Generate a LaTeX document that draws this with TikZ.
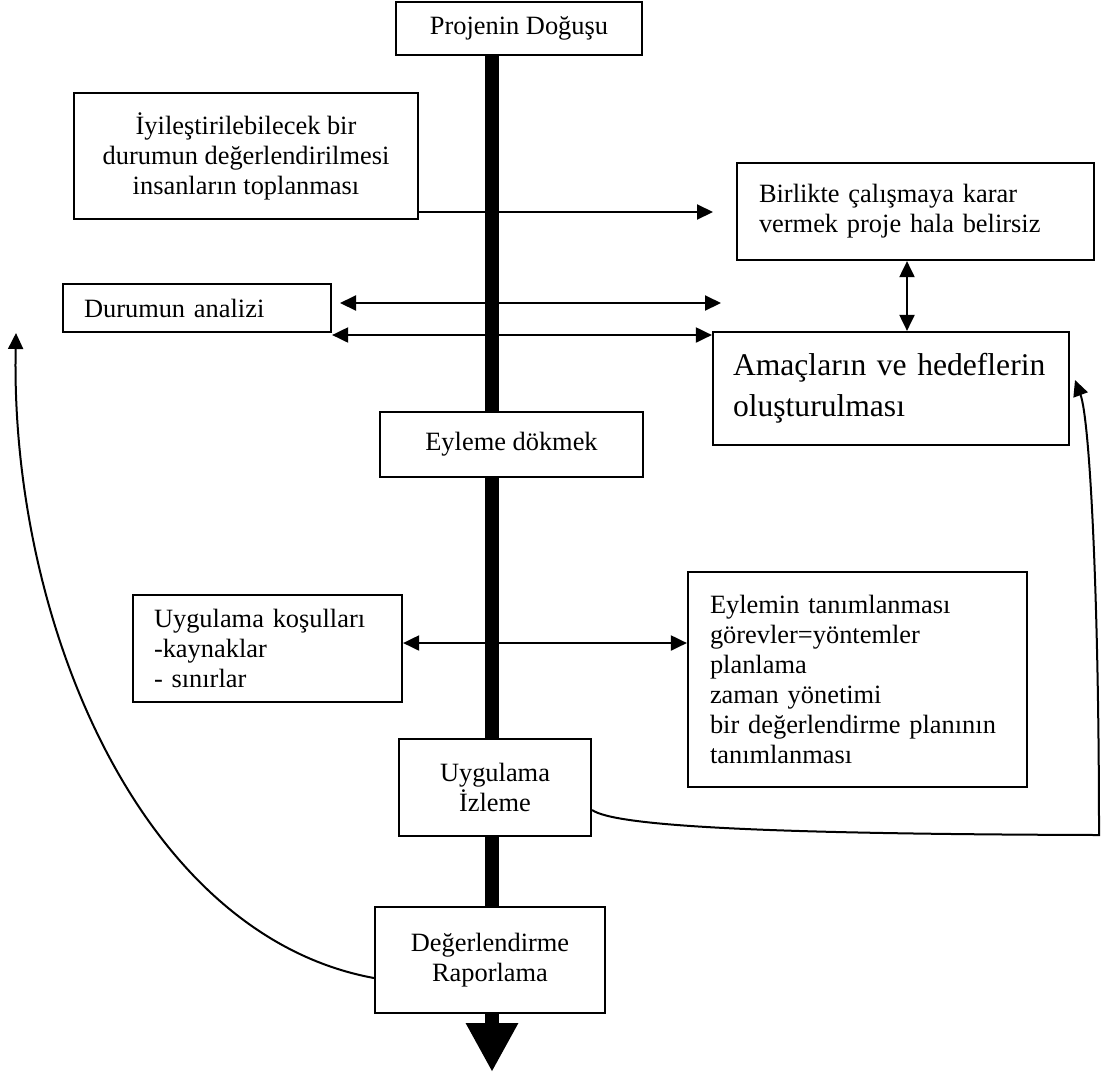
\documentclass[tikz,border=0pt]{standalone}
\usepackage{fontspec}
\setmainfont{Liberation Serif}
\usetikzlibrary{arrows.meta,backgrounds}
\begin{document}
\begin{tikzpicture}[x=0.5pt,y=-0.5pt,
  box/.style={draw, line width=1.1pt, fill=white, inner sep=0pt, font=\fontsize{13.2}{15}\selectfont},
  lbox/.style={box, align=left},
  cbox/.style={box, align=center},
  tipshape/.style={-{Triangle[length=8pt,width=7.5pt]}},
  arr/.style={line width=1pt, tipshape},
  darr/.style={line width=1pt, {Triangle[length=8pt,width=7.5pt]}-{Triangle[length=8pt,width=7.5pt]}},
  mainbar/.style={line width=7pt, -{Triangle[length=24.5pt,width=24.5pt]}}
]
\useasboundingbox (0,0) rectangle (1101,1077);

% boxes
\node[cbox, minimum width=123pt, minimum height=26.5pt] (proj) at (519,28.5) {Projenin Doğuşu};
\node[cbox, minimum width=172pt, minimum height=63pt] (iyi) at (246,156) {İyileştirilebilecek bir\\durumun değerlendirilmesi\\insanların toplanması};
\node[lbox, text width=156.5pt, inner xsep=11pt, minimum height=48.5pt] (bir) at (915.5,211.5) {\mbox{Birlikte çalışmaya karar}\\\mbox{vermek proje hala belirsiz}};
\node[lbox, text width=113pt, inner xsep=10.5pt, minimum height=24pt] (durum) at (197,308) {Durumun analizi};
\node[lbox, text width=158pt, inner xsep=10pt, minimum height=56.5pt, font=\fontsize{15.8}{20.5}\selectfont] (amac) at (891,388.5) {\mbox{Amaçların ve hedeflerin}\\oluşturulması};
\node[cbox, minimum width=131.5pt, minimum height=32.5pt] (eylemek) at (511.5,444.5) {Eyleme dökmek};
\node[lbox, text width=113.5pt, inner xsep=10.5pt, minimum height=53.5pt] (kos) at (267.5,648.5) {\mbox{Uygulama koşulları}\\-kaynaklar\\- sınırlar};
\node[lbox, text width=147.5pt, inner xsep=11pt, minimum height=107.5pt] (eyl) at (857.5,679.5) {Eylemin tanımlanması\\görevler=yöntemler\\planlama\\zaman yönetimi\\\mbox{bir değerlendirme planının}\\tanımlanması};
\node[cbox, minimum width=96pt, minimum height=48.5pt] (uyg) at (495,787.5) {Uygulama\\İzleme};
\node[cbox, minimum width=115pt, minimum height=53pt] (deg) at (490,960) {Değerlendirme\\Raporlama};

% main vertical bar
\coordinate (bartip) at (492,1072);
\begin{scope}[on background layer]
  \draw[mainbar] (proj.south -| bartip) -- (bartip);
\end{scope}

% connectors
\coordinate (a1) at (713,212);
\draw[arr] (iyi.east |- a1) -- (a1);

\coordinate (b1) at (340,303);
\coordinate (b2) at (721,303);
\draw[darr] (b1) -- (b2);

\coordinate (c) at (0,335);
\draw[darr] (durum.east |- c) -- (amac.west |- c);

\coordinate (d) at (907,0);
\draw[darr] (bir.south -| d) -- (amac.north -| d);

\coordinate (e) at (0,643);
\draw[darr] (kos.east |- e) -- (eyl.west |- e);

% feedback curves
\coordinate (f0) at (0,810);
\coordinate (f1) at (1099,835);
\coordinate (f2) at (1075,380);
\draw[arr] (uyg.east |- f0) .. controls (615,826) and (760,834) .. (f1)
  .. controls (1099,600) and (1090,420) .. (f2);

\coordinate (g0) at (0,978);
\coordinate (g1) at (16,333);
\draw[arr] (deg.west |- g0) .. controls (140,935) and (10,620) .. (g1);
\end{tikzpicture}
\end{document}
